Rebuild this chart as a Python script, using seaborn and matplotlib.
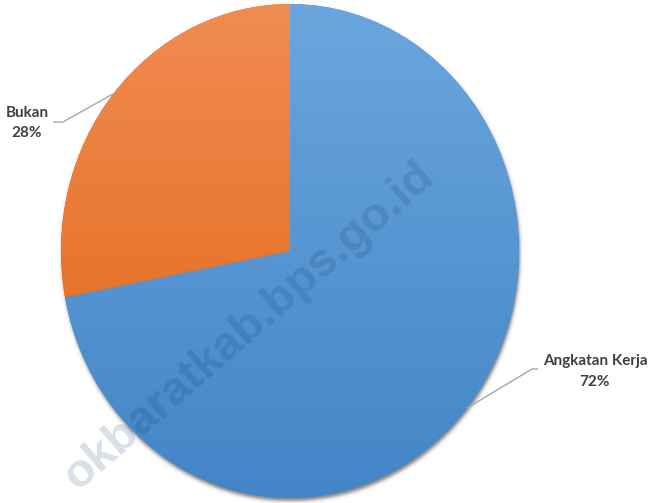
import numpy as np
import matplotlib
matplotlib.use("Agg")
import matplotlib.pyplot as plt
import matplotlib.transforms as mtransforms
from matplotlib.patches import Ellipse
import seaborn as sns

# Composition of the population aged 15+ (percent)
categories = ["Angkatan Kerja", "Bukan"]
shares = [72, 28]
share_labels = ["72%", "28%"]

# Vertical gradient fill per slice (top -> bottom)
gradient_tops = ["#6ba6de", "#f18c52"]
gradient_bottoms = ["#4385c7", "#e0630f"]

W, H, DPI = 649, 503, 100
sns.set_theme(style="white")
plt.rcParams["font.family"] = ["Lato", "DejaVu Sans"]

fig = plt.figure(figsize=(W / DPI, H / DPI), dpi=DPI)
fig.patch.set_facecolor("white")
# pixel coordinates, origin at top-left
pix = mtransforms.Affine2D().scale(1 / DPI, -1 / DPI).translate(0, H / DPI) + fig.dpi_scale_trans

# bounding box of the pie in pixels
left, top, right, bottom = 61, 4, 519, 498
cx, cy = (left + right) / 2, (top + bottom) / 2
rx, ry = (right - left) / 2, (bottom - top) / 2

# soft drop shadow under the pie
bg = fig.add_axes([0, 0, 1, 1], zorder=0)
bg.set_axis_off()
yy, xx = np.mgrid[0:H, 0:W] + 0.5
r = np.hypot((xx - cx - 1) / rx, (yy - cy - 3) / ry)
d = (r - 1) * (rx + ry) / 2
alpha = 0.5 * 0.5 * (1 - np.tanh(d / 2.2))
shadow = np.zeros((H, W, 4))
shadow[..., 3] = alpha
bg.imshow(shadow, extent=(0, W, H, 0), interpolation="bilinear")
bg.set_xlim(0, W)
bg.set_ylim(H, 0)
bg.set_aspect("auto")

# pie
ax = fig.add_axes([left / W, 1 - bottom / H, (right - left) / W, (bottom - top) / H], zorder=1)
wedges, _ = ax.pie(shares, startangle=90, counterclock=False, radius=1,
                   colors=gradient_bottoms, wedgeprops=dict(linewidth=0))
grad = np.linspace(0, 1, 256).reshape(-1, 1)
for w, c_top, c_bot in zip(wedges, gradient_tops, gradient_bottoms):
    cmap = sns.blend_palette([c_top, c_bot], as_cmap=True)
    im = ax.imshow(grad, cmap=cmap, extent=(-1, 1, -1, 1), origin="upper",
                   aspect="auto", zorder=2, interpolation="bilinear")
    im.set_clip_path(w)
ax.set_aspect("auto")
ax.set_xlim(-1, 1)
ax.set_ylim(-1, 1)
ax.set_axis_off()

# overlay for leader lines, labels and watermark
fg = fig.add_axes([0, 0, 1, 1], zorder=3)
fg.set_axis_off()
fg.set_xlim(0, W)
fg.set_ylim(H, 0)
fg.patch.set_alpha(0)

label_layout = {
    "Angkatan Kerja": dict(elbow=(532, 369), end=(538, 369), text=(595, 361), gap=21),
    "Bukan": dict(elbow=(63, 122), end=(53, 122), text=(27, 113), gap=20),
}
to_pix = pix.inverted()
for w, cat, lab in zip(wedges, categories, share_labels):
    mid = np.deg2rad((w.theta1 + w.theta2) / 2)
    anchor = to_pix.transform(ax.transData.transform((np.cos(mid), np.sin(mid))))
    lay = label_layout[cat]
    xs = [anchor[0], lay["elbow"][0], lay["end"][0]]
    ys = [anchor[1], lay["elbow"][1], lay["end"][1]]
    fg.plot(xs, ys, color="#a6a6a6", lw=1.0, solid_capstyle="butt")
    tx, ty = lay["text"]
    fg.text(tx, ty, cat, ha="center", va="center", fontsize=11,
            fontweight="bold", color="#404040")
    fg.text(tx, ty + lay["gap"], lab, ha="center", va="center", fontsize=11,
            fontweight="bold", color="#404040")

# site watermark
wm = "okbaratkab.bps.go.id"
wm_kw = dict(rotation=41, rotation_mode="anchor", ha="right", va="baseline",
             fontsize=34, fontweight="bold", family="Liberation Sans")
fg.text(436, 180, wm, color=(0, 0, 0, 0.035), **wm_kw)
t2 = fg.text(436, 180, wm, color=(0.05, 0.25, 0.5, 0.13), **wm_kw)
t2.set_clip_path(Ellipse((0, 0), 2, 2, transform=ax.transData))

fig.savefig("out.png", dpi=DPI, facecolor="white")
